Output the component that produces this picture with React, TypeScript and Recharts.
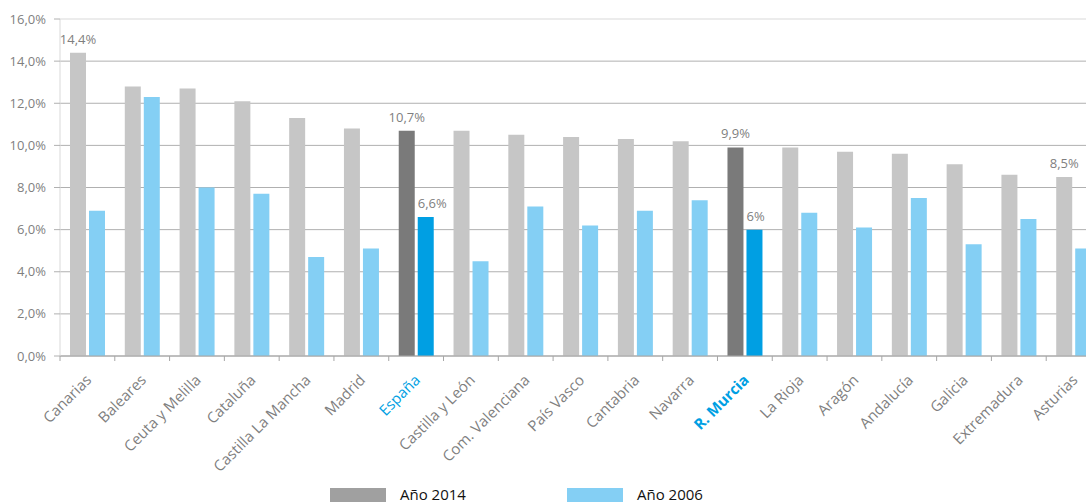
import { BarChart, Bar, XAxis, YAxis, CartesianGrid, Cell, LabelList } from "recharts";

const categories = [
  "Canarias",
  "Baleares",
  "Ceuta y Melilla",
  "Cataluña",
  "Castilla La Mancha",
  "Madrid",
  "España",
  "Castilla y León",
  "Com. Valenciana",
  "País Vasco",
  "Cantabria",
  "Navarra",
  "R. Murcia",
  "La Rioja",
  "Aragón",
  "Andalucía",
  "Galicia",
  "Extremadura",
  "Asturias",
];
const year2014 = [14.4, 12.8, 12.7, 12.1, 11.3, 10.8, 10.7, 10.7, 10.5, 10.4, 10.3, 10.2, 9.9, 9.9, 9.7, 9.6, 9.1, 8.6, 8.5];
const year2006 = [6.9, 12.3, 8.0, 7.7, 4.7, 5.1, 6.6, 4.5, 7.1, 6.2, 6.9, 7.4, 6.0, 6.8, 6.1, 7.5, 5.3, 6.5, 5.1];
const yTicks = [0, 2, 4, 6, 8, 10, 12, 14, 16];

const highlighted = ["España", "R. Murcia"];
const boldNames = ["R. Murcia"];
const labeled2014 = ["Canarias", "España", "R. Murcia", "Asturias"];
const labeled2006 = ["España", "R. Murcia"];

const fmtPct = (v: number) => String(v).replace(".", ",") + "%";

const data = categories.map((name, i) => ({
  name,
  y2014: year2014[i],
  y2006: year2006[i],
  lab2014: labeled2014.includes(name) ? fmtPct(year2014[i]) : null,
  lab2006: labeled2006.includes(name) ? fmtPct(year2006[i]) : null,
}));

const CHART_W = 1110;
const CHART_H = 502;
const AXIS_W = 60;
const RIGHT = 9;
const BAND = (CHART_W - AXIS_W - RIGHT) / categories.length;

const GRAY = "#7f7f7f";

function CategoryTick(props: any) {
  const { x, y, payload } = props;
  const name = payload.value as string;
  const hl = highlighted.includes(name);
  const left = x - BAND / 2;
  const tx = x + 5;
  const ty = y + 19;
  return (
    <g>
      <line x1={left} y1={y - 6} x2={left} y2={y - 1} stroke="#a6a6a6" />
      <text
        x={tx}
        y={ty}
        transform={`rotate(-45, ${tx}, ${ty})`}
        textAnchor="end"
        fontSize={15}
        fontFamily="Open Sans"
        fill={hl ? "#009fe3" : GRAY}
        fontWeight={boldNames.includes(name) ? 700 : 400}
      >
        {name}
      </text>
    </g>
  );
}

// 2006 labels start at the bar's left edge, as in the original
function LeftLabel(p: any) {
  if (p.value == null) return null;
  const x = p.viewBox?.x ?? p.x;
  const y = p.viewBox?.y ?? p.y;
  return (
    <text x={x} y={y - 9} fill={GRAY} fontSize={13} fontFamily="Open Sans">
      {p.value}
    </text>
  );
}

function GridLine(p: any) {
  const { key, x1, y1, x2, y2 } = p;
  return <line key={key} x1={x1} y1={y1} x2={x2} y2={y2} stroke={y1 < 25 ? "#d9d9d9" : "#b0b0b0"} strokeWidth={1} />;
}

const legendItems = [
  { label: "Año 2014", color: "#a0a0a0", left: 330 },
  { label: "Año 2006", color: "#84cff4", left: 567 },
];

export default function App() {
  return (
    <div
      style={{
        position: "absolute",
        left: 0,
        top: 0,
        width: 1086,
        height: 502,
        overflow: "hidden",
        background: "#fff",
        fontFamily: "Open Sans",
      }}
    >
      <BarChart
        width={CHART_W}
        height={CHART_H}
        data={data}
        margin={{ top: 19, right: RIGHT, left: 0, bottom: 0 }}
        barSize={16}
        barGap={3}
      >
        <CartesianGrid vertical={false} horizontal={GridLine} />
        <XAxis
          dataKey="name"
          interval={0}
          height={146}
          tickSize={6}
          tickMargin={0}
          tickLine={false}
          axisLine={{ stroke: "#a6a6a6" }}
          tick={<CategoryTick />}
        />
        <YAxis
          width={AXIS_W}
          domain={[0, 16]}
          ticks={yTicks}
          interval={0}
          tickSize={6}
          tickMargin={8}
          tickFormatter={(v: number) => v.toFixed(1).replace(".", ",") + "%"}
          tick={{ fill: GRAY, fontSize: 13, fontFamily: "Open Sans" }}
          tickLine={{ stroke: "#b0b0b0" }}
          axisLine={{ stroke: "#d9d9d9" }}
        />
        <Bar dataKey="y2014" isAnimationActive={false}>
          {categories.map((name) => (
            <Cell key={name} fill={highlighted.includes(name) ? "#7a7a7a" : "#c6c6c6"} />
          ))}
          <LabelList dataKey="lab2014" position="top" offset={9} fill={GRAY} fontSize={13} fontFamily="Open Sans" />
        </Bar>
        <Bar dataKey="y2006" isAnimationActive={false}>
          {categories.map((name) => (
            <Cell key={name} fill={highlighted.includes(name) ? "#009fe3" : "#84cff4"} />
          ))}
          <LabelList dataKey="lab2006" content={LeftLabel} />
        </Bar>
      </BarChart>
      {legendItems.map((it) => (
        <div
          key={it.label}
          style={{ position: "absolute", left: it.left, top: 488, display: "flex", alignItems: "flex-start" }}
        >
          <div style={{ width: 56, height: 14, background: it.color }} />
          <span style={{ marginLeft: 14, fontSize: 15, lineHeight: "14px", color: "#111", marginTop: -1 }}>{it.label}</span>
        </div>
      ))}
    </div>
  );
}
